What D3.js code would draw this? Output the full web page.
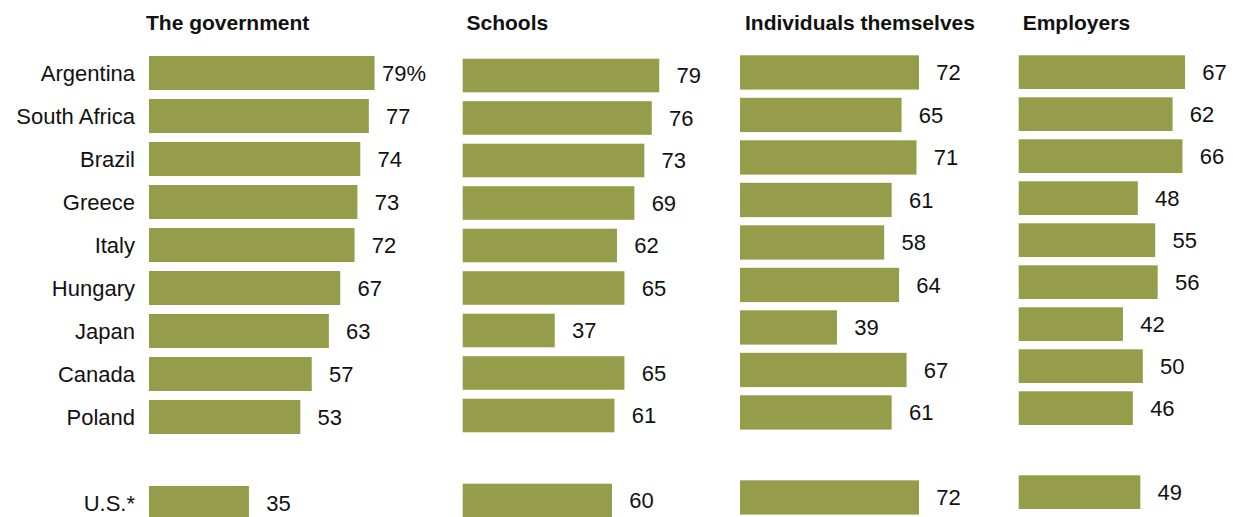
<!DOCTYPE html>
<html>
<head>
<meta charset="utf-8">
<script src="https://cdn.jsdelivr.net/npm/d3@7"></script>
<style>
  html, body { margin: 0; padding: 0; background: #ffffff; }
  svg { display: block; }
  text { font-family: "Liberation Sans", Arial, sans-serif; fill: #111; }
</style>
</head>
<body>
<svg id="chart" width="1233" height="517"></svg>
<script>
// ---- Data ----
const countries = ["Argentina", "South Africa", "Brazil", "Greece", "Italy", "Hungary", "Japan", "Canada", "Poland", "", "U.S.*"];
const panelTitles = ["The government", "Schools", "Individuals themselves", "Employers"];
const governmentValues = [79, 77, 74, 73, 72, 67, 63, 57, 53, null, 35];
const schoolsValues = [79, 76, 73, 69, 62, 65, 37, 65, 61, null, 60];
const individualsValues = [72, 65, 71, 61, 58, 64, 39, 67, 61, null, 72];
const employersValues = [67, 62, 66, 48, 55, 56, 42, 50, 46, null, 49];

// ---- Layout ----
const svg = d3.select("#chart");
const barColor = "#959d4a";
const panels = [
  { title: panelTitles[0], values: governmentValues, x0: 149, width100: 285.5, titleX: 146, top: 56, step: 43, bar: 34 },
  { title: panelTitles[1], values: schoolsValues, x0: 462.7, width100: 248.8, titleX: 466.5, top: 58.7, step: 42.5, bar: 33.6 },
  { title: panelTitles[2], values: individualsValues, x0: 740, width100: 248.6, titleX: 745, top: 55.3, step: 42.5, bar: 34.3 },
  { title: panelTitles[3], values: employersValues, x0: 1018.7, width100: 248.2, titleX: 1022.7, top: 55.3, step: 42, bar: 33.7 }
];

const keys = countries.map((c, i) => c === "" ? "__gap__" : c);

panels.forEach((p, pi) => {
  const pad = (p.step - p.bar) / p.step;
  const y = d3.scaleBand()
    .domain(keys)
    .range([p.top, p.top + p.step * (keys.length - pad)])
    .paddingInner(pad)
    .paddingOuter(0);
  const x = d3.scaleLinear().domain([0, 100]).range([p.x0, p.x0 + p.width100]);

  const g = svg.append("g");

  g.append("text")
    .attr("x", p.titleX)
    .attr("y", 30)
    .style("font-weight", "bold")
    .style("font-size", "21px")
    .text(p.title);

  const rows = keys.map((k, i) => ({ key: k, value: p.values[i], idx: i })).filter(d => d.value !== null);

  g.selectAll("rect.bar")
    .data(rows)
    .join("rect")
    .attr("class", "bar")
    .attr("x", x(0))
    .attr("y", d => y(d.key))
    .attr("width", d => x(d.value) - x(0))
    .attr("height", y.bandwidth())
    .attr("fill", barColor);

  g.selectAll("text.val")
    .data(rows)
    .join("text")
    .attr("class", "val")
    .attr("x", d => x(d.value) + 29.5)
    .attr("y", d => y(d.key) + y.bandwidth() / 2)
    .attr("dy", "0.36em")
    .attr("text-anchor", "middle")
    .style("font-size", "22px")
    .text(d => (pi === 0 && d.idx === 0) ? d.value + "%" : d.value);

  if (pi === 0) {
    g.selectAll("text.country")
      .data(rows)
      .join("text")
      .attr("class", "country")
      .attr("x", 135)
      .attr("y", d => y(d.key) + y.bandwidth() / 2)
      .attr("dy", "0.36em")
      .attr("text-anchor", "end")
      .style("font-size", "22px")
      .text(d => d.key);
  }
});
</script>
</body>
</html>
